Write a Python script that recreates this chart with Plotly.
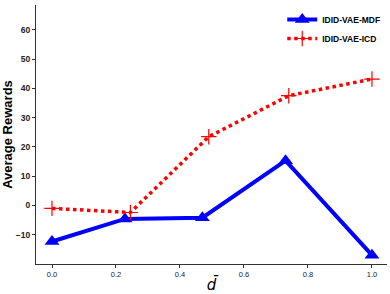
import plotly.graph_objects as go

x_mdf = [0.0, 0.228, 0.47, 0.73, 1.0]
y_mdf = [-12.3, -4.6, -4.2, 15.3, -17.0]
x_icd = [0.0, 0.245, 0.49, 0.74, 1.0]
y_icd = [-1.0, -2.4, 23.5, 37.5, 43.2]
x_ticks = [0.0, 0.2, 0.4, 0.6, 0.8, 1.0]
x_tick_text = ["0.0", "0.2", "0.4", "0.6", "0.8", "1.0"]
y_ticks = [-10, 0, 10, 20, 30, 40, 50, 60]

fig = go.Figure()
fig.add_trace(go.Scatter(
    x=x_mdf, y=y_mdf, mode="lines+markers", name="IDID-VAE-MDF",
    line=dict(color="#0000ff", width=4),
    marker=dict(symbol="triangle-up", size=13, color="#0000ff"),
))
fig.add_trace(go.Scatter(
    x=x_icd, y=y_icd, mode="lines+markers", name="IDID-VAE-ICD",
    line=dict(color="#ff0000", width=3.5, dash="dot"),
    marker=dict(symbol="cross-thin", size=11, color="#ff0000",
                line=dict(color="#ff0000", width=1.2)),
))

fig.update_layout(
    width=390, height=294,
    margin=dict(l=36, r=3, t=5, b=30),
    plot_bgcolor="white", paper_bgcolor="white",
    font=dict(family="Liberation Sans, Arial, sans-serif", color="black"),
    showlegend=True,
    legend=dict(x=0.995, y=1.0, xanchor="right", yanchor="top",
                bgcolor="rgba(0,0,0,0)",
                font=dict(size=8.5, family="Liberation Sans", weight="bold"),
                itemwidth=30, tracegroupgap=0),
    xaxis=dict(range=[-0.05, 1.047], tickvals=x_ticks, ticktext=x_tick_text,
               automargin=False,
               showgrid=False, zeroline=False, showline=True, linecolor="#333",
               linewidth=1.3, ticks="outside", ticklen=3, tickcolor="#333",
               tickfont=dict(size=7.5, color="#222"),
               title=dict(text="<i>d\u0304</i>", font=dict(size=15, family="DejaVu Sans"), standoff=2)),
    yaxis=dict(range=[-20, 68.5], tickvals=y_ticks,
               automargin=False,
               showgrid=False, zeroline=False, showline=True, linecolor="#333",
               linewidth=1.3, ticks="outside", ticklen=3, tickcolor="#333",
               tickfont=dict(size=8.5, weight="bold", color="#222"),
               title=dict(text="<b>Average Rewards</b>", font=dict(size=13), standoff=3)),
)

fig.write_html("out.html", config={"displayModeBar": False},
               post_script="document.body.style.margin='0';")
